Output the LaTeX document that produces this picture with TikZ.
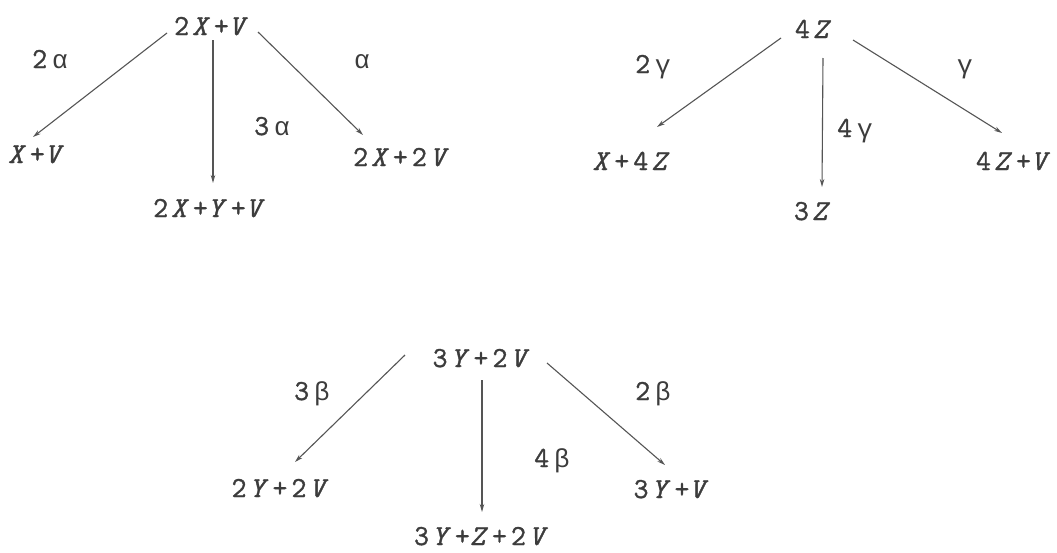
\documentclass[tikz,border=0pt]{standalone}
\usepackage{fontspec}
\newfontfamily\tw{Latin Modern Mono}[LetterSpace=14, FakeBold=1.2]
\newfontfamily\gr{Liberation Mono}[LetterSpace=7]
\usetikzlibrary{arrows.meta}
\definecolor{ink}{HTML}{3C3C3C}
\definecolor{wire}{HTML}{555555}
\newcommand{\iv}[1]{\textit{#1}}
\newcommand{\dv}[1]{\hspace{3pt}\textit{#1}}
\newcommand{\gk}[1]{{\gr\fontsize{26}{30}\selectfont #1}}
\newcommand{\gap}{\hspace{5pt}}
\begin{document}
\begin{tikzpicture}[x=1pt,y=-1pt,
  tx/.style={inner sep=0pt, anchor=base, font=\tw\fontsize{29}{30}\selectfont, text=ink},
  lb/.style={inner sep=0pt, anchor=base, font=\tw\fontsize{29}{30}\selectfont, text=ink},
  arr/.style={draw=wire, line width=1.1pt, -{Stealth[length=8pt,width=4.5pt]}}]
\useasboundingbox[fill=white] (0,0) rectangle (1057,552);
% tree 1
\node[tx] (r1) at (213,35) {2\dv{X}+\iv{V}};
\node[tx] (c1a) at (38,163) {\iv{X}+\iv{V}};
\node[tx] (c1b) at (211,217) {2\dv{X}+\iv{Y}+\iv{V}};
\node[tx] (c1c) at (403,166) {2\dv{X}+2\dv{V}};
\node[lb] (l1a) at (50,68) {2\gap\gk{α}};
\node[lb] (l1b) at (272,135) {3\gap\gk{α}};
\node[lb] (l1c) at (362,68) {\gk{α}};
\draw[arr] ([shift={(-46,-2)}]r1.base) -- ([shift={(-5,-26)}]c1a.base);
\draw[arr] ([shift={(0,5)}]r1.base) -- ([shift={(2,-34)}]c1b.base);
\draw[arr] ([shift={(45,-3)}]r1.base) -- ([shift={(-40,-31)}]c1c.base);
% tree 2
\node[tx] (r2) at (815,38) {4\dv{Z}};
\node[tx] (c2a) at (633,170) {\iv{X}+4\dv{Z}};
\node[tx] (c2b) at (814,220) {3\dv{Z}};
\node[tx] (c2c) at (1015,170) {4\dv{Z}+\iv{V}};
\node[lb] (l2a) at (653,73) {2\gap\gk{γ}};
\node[lb] (l2b) at (855,137) {4\gap\gk{γ}};
\node[lb] (l2c) at (965,73) {\gk{γ}};
\draw[arr] ([shift={(-34,0)}]r2.base) -- ([shift={(24,-43)}]c2a.base);
\draw[arr] ([shift={(8,20)}]r2.base) -- ([shift={(8,-33)}]c2b.base);
\draw[arr] ([shift={(38,2)}]r2.base) -- ([shift={(-13,-37)}]c2c.base);
% tree 3
\node[tx] (r3) at (483,367) {3\dv{Y}+2\dv{V}};
\node[tx] (c3a) at (282,497) {2\dv{Y}+2\dv{V}};
\node[tx] (c3b) at (483,545) {3\dv{Y}+\iv{Z}+2\dv{V}};
\node[tx] (c3c) at (673,498) {3\dv{Y}+\iv{V}};
\node[lb] (l3a) at (312,400) {3\gap\gk{β}};
\node[lb] (l3b) at (552,467) {4\gap\gk{β}};
\node[lb] (l3c) at (653,400) {2\gap\gk{β}};
\draw[arr] ([shift={(-78,-12)}]r3.base) -- ([shift={(13,-35)}]c3a.base);
\draw[arr] ([shift={(-1,13)}]r3.base) -- ([shift={(-1,-33)}]c3b.base);
\draw[arr] ([shift={(64,-4)}]r3.base) -- ([shift={(-8,-33)}]c3c.base);
\end{tikzpicture}
\end{document}
